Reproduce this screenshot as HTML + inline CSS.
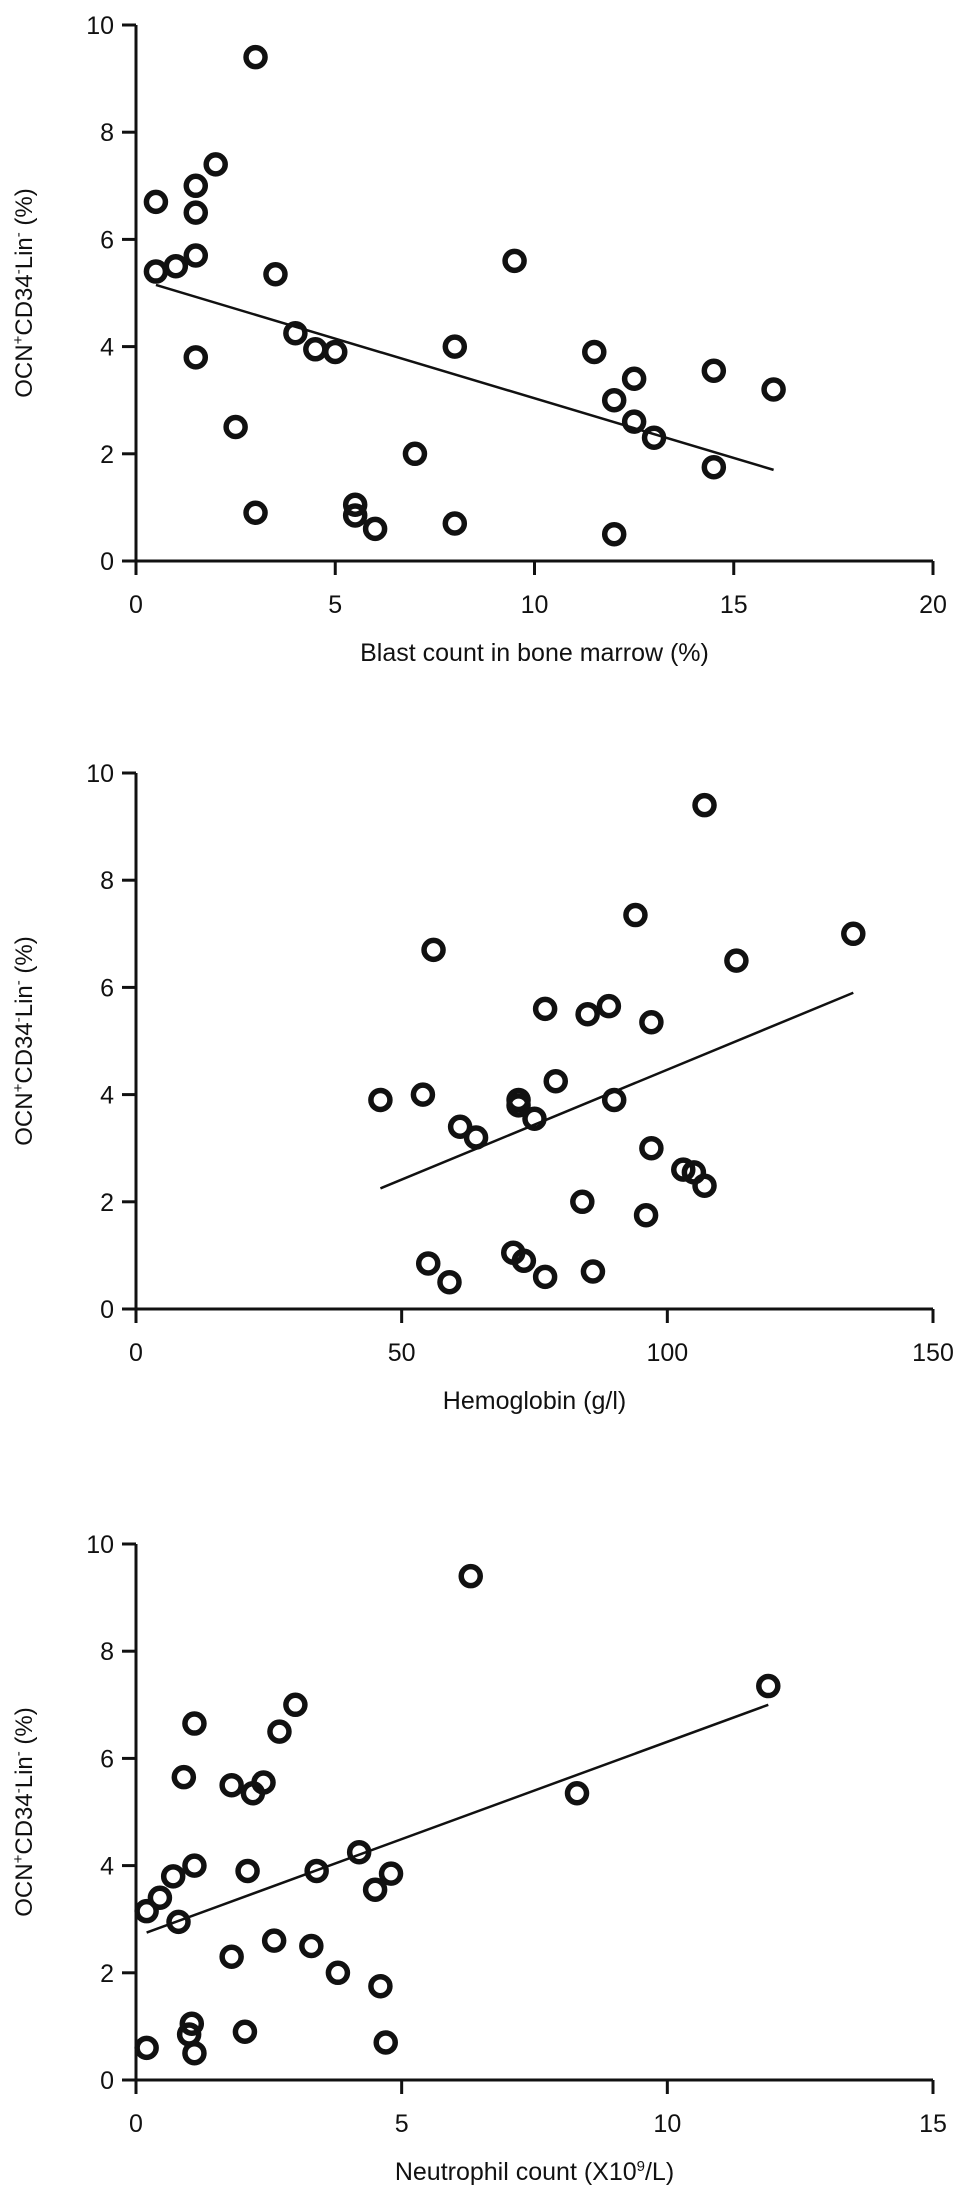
<!DOCTYPE html>
<html><head><meta charset="utf-8">
<style>
html,body{margin:0;padding:0;background:#fff;}
svg{display:block;}
text{font-family:"Liberation Sans",Arial,sans-serif;fill:#111;}
</style></head>
<body>
<svg id="chart" width="969" height="2198" viewBox="0 0 969 2198" xmlns="http://www.w3.org/2000/svg"></svg>
<script>
const blastX = [3,0.5,1.5,2,1.5,1.5,0.5,1,3.5,9.5,1.5,4,4.5,5,8,11.5,12.5,12,12.5,13,14.5,16,14.5,2.5,7,3,5.5,5.5,6,8,12];
const blastY = [9.4,6.7,7.0,7.4,6.5,5.7,5.4,5.5,5.35,5.6,3.8,4.25,3.95,3.9,4.0,3.9,3.4,3.0,2.6,2.3,3.55,3.2,1.75,2.5,2.0,0.9,1.05,0.85,0.6,0.7,0.5];
const blastFit = [[0.5,5.15],[16,1.7]];
const blastTicks = [0,5,10,15,20];

const hbX = [107,56,94,135,113,77,85,89,97,46,54,72,72,79,90,61,64,75,97,103,105,107,84,96,55,59,71,73,77,86];
const hbY = [9.4,6.7,7.35,7.0,6.5,5.6,5.5,5.65,5.35,3.9,4.0,3.9,3.8,4.25,3.9,3.4,3.2,3.55,3.0,2.6,2.55,2.3,2.0,1.75,0.85,0.5,1.05,0.9,0.6,0.7];
const hbFit = [[46,2.25],[135,5.9]];
const hbTicks = [0,50,100,150];

const neuX = [6.3,11.9,1.1,3,2.7,0.9,1.8,2.4,2.2,8.3,0.7,1.1,2.1,3.4,4.2,4.8,4.5,0.2,0.45,0.8,1.8,2.6,3.3,3.8,4.6,0.2,1.0,1.05,1.1,2.05,4.7];
const neuY = [9.4,7.35,6.65,7.0,6.5,5.65,5.5,5.55,5.35,5.35,3.8,4.0,3.9,3.9,4.25,3.85,3.55,3.15,3.4,2.95,2.3,2.6,2.5,2.0,1.75,0.6,0.85,1.05,0.5,0.9,0.7];
const neuFit = [[0.2,2.75],[11.9,7.0]];
const neuTicks = [0,5,10,15];

const yTicks = [0,2,4,6,8,10];

const NS = "http://www.w3.org/2000/svg";
const svg = document.getElementById('chart');
function el(tag, attrs, parent){
  const e = document.createElementNS(NS, tag);
  for (const k in attrs) e.setAttribute(k, attrs[k]);
  (parent||svg).appendChild(e);
  return e;
}

function panel(name, xs, ys, fit, xticks, xmax, top, xtitleHTML){
  const left = 136, right = 933, bottom = top + 536;
  const sx = v => left + (v / xmax) * (right - left);
  const sy = v => bottom - (v / 10) * (bottom - top);
  const g = el('g', {});
  
  
  // axes
  const ya = el('line', {x1:left, y1:top, x2:left, y2:bottom+14, stroke:'#111','stroke-width':3}, g);
  
  
  const xa = el('line', {x1:left-14, y1:bottom, x2:right, y2:bottom, stroke:'#111','stroke-width':3}, g);
  
  
  yTicks.forEach(t => {
    const y = sy(t);
    const tk = el('line', {x1:left-14, y1:y, x2:left, y2:y, stroke:'#111','stroke-width':3}, g);
    
    
    const tx = el('text', {x:left-22, y:y+9, 'text-anchor':'end','font-size':25}, g);
    tx.textContent = t;
    
    
  });
  xticks.forEach(t => {
    const x = sx(t);
    const tk = el('line', {x1:x, y1:bottom, x2:x, y2:bottom+14, stroke:'#111','stroke-width':3}, g);
    
    
    const tx = el('text', {x:x, y:bottom+52, 'text-anchor':'middle','font-size':25}, g);
    tx.textContent = t;
    
    
  });
  // x title
  const xt = el('text', {x:(left+right)/2, y:bottom+100, 'text-anchor':'middle','font-size':25}, g);
  xt.innerHTML = xtitleHTML;
  
  
  // y title
  const cy = (top+bottom)/2;
  const yt = el('text', {x:0, y:0, 'text-anchor':'middle','font-size':24, transform:`translate(32,${cy}) rotate(-90)`}, g);
  yt.innerHTML = 'OCN<tspan dy="-9" font-size="15">+</tspan><tspan dy="9">CD34</tspan><tspan dy="-9" font-size="15">-</tspan><tspan dy="9">Lin</tspan><tspan dy="-9" font-size="15">-</tspan><tspan dy="9"> (%)</tspan>';
  
  
  // fit line
  const fl = el('line', {x1:sx(fit[0][0]), y1:sy(fit[0][1]), x2:sx(fit[1][0]), y2:sy(fit[1][1]), stroke:'#111','stroke-width':2.5}, g);
  
  
  // points
  xs.forEach((v,i) => {
    const c = el('circle', {cx:sx(v), cy:sy(ys[i]), r:9.5, fill:'none', stroke:'#111','stroke-width':5.5}, g);
    
    
  });
}

panel('blast', blastX, blastY, blastFit, blastTicks, 20, 25, 'Blast count in bone marrow (%)');
panel('hemoglobin', hbX, hbY, hbFit, hbTicks, 150, 773, 'Hemoglobin (g/l)');
panel('neutrophil', neuX, neuY, neuFit, neuTicks, 15, 1544, 'Neutrophil count (X10<tspan dy="-9" font-size="15">9</tspan><tspan dy="9">/L)</tspan>');
</script>
</body></html>
